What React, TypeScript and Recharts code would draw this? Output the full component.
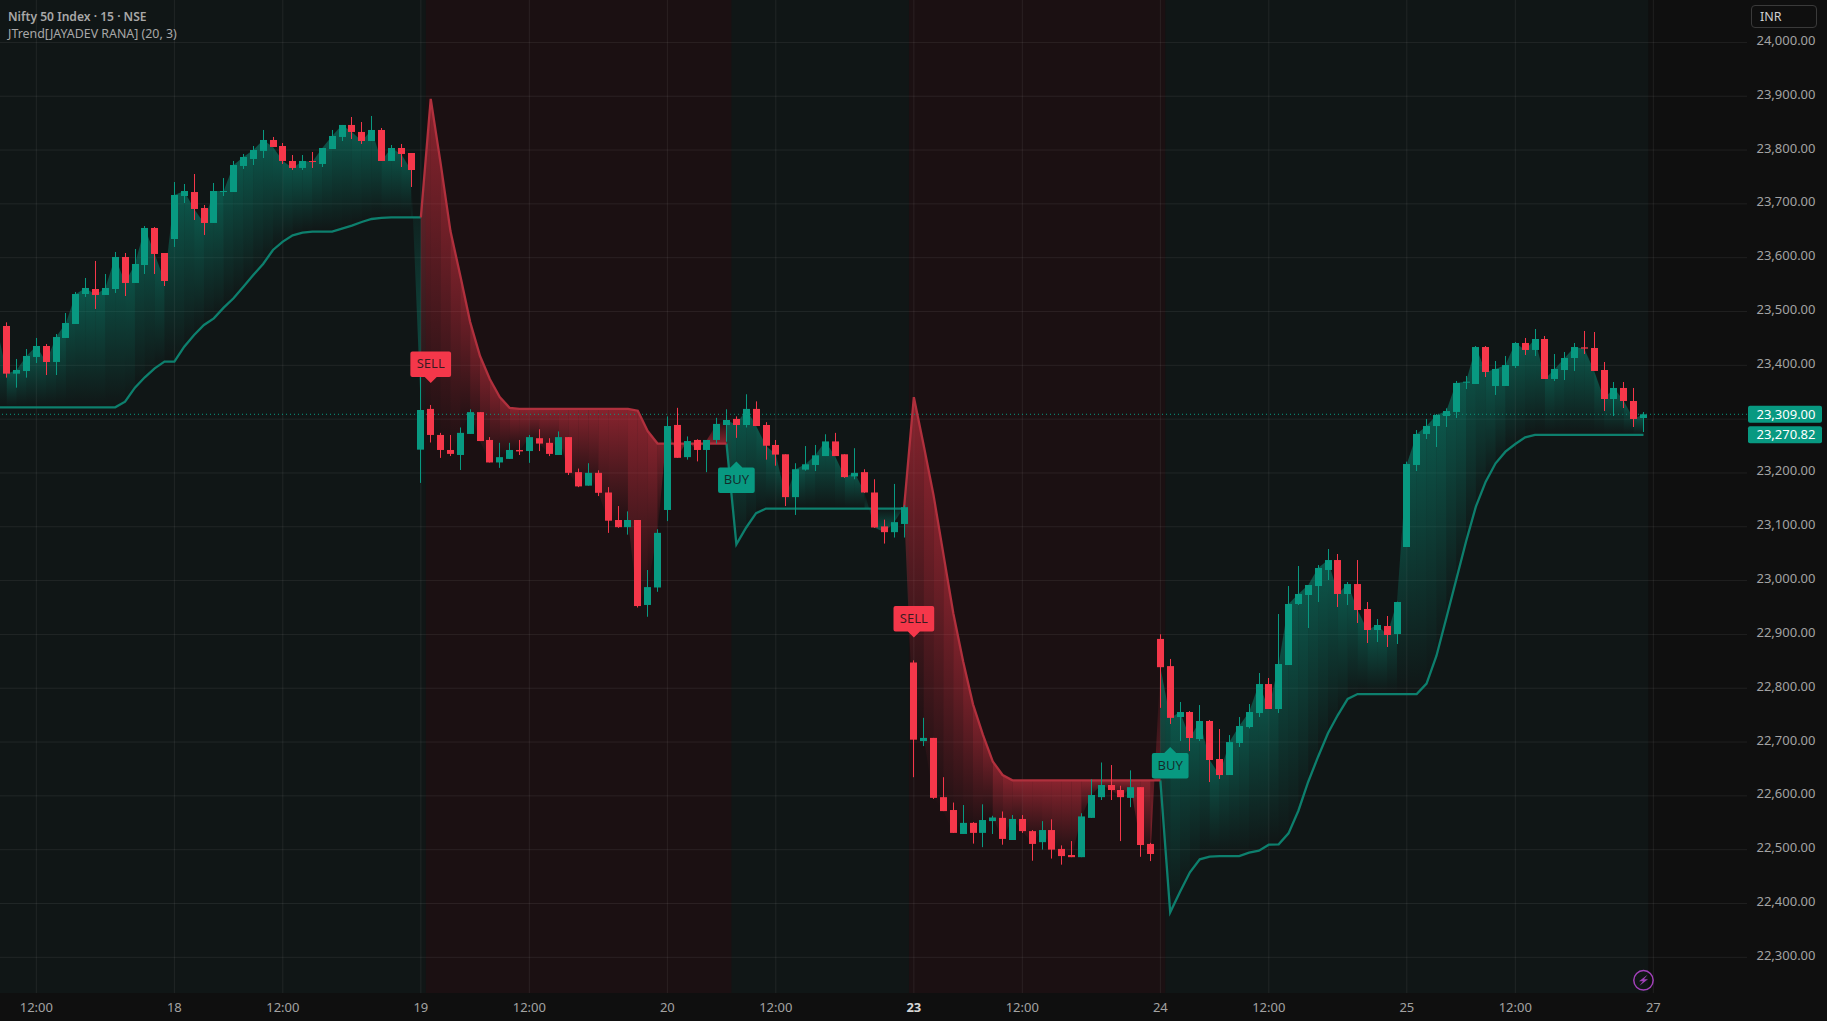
import React from "react";
import { ComposedChart, Area, Bar, Line, XAxis, YAxis, CartesianGrid, ReferenceArea, ReferenceLine, ReferenceDot } from "recharts";

const candleOpen = [23524.5,23473.1,23384.5,23389.4,23415.5,23435.9,23406.2,23450.8,23476.8,23532.5,23541.8,23530.7,23541.8,23601.3,23553,23586.4,23655.2,23608.7,23634.7,23714.6,23722,23692.3,23664.5,23722.7,23722,23770.4,23783.4,23798.3,23818.7,23807.5,23779.7,23766.7,23779.7,23774.1,23801.9,23824.3,23846.6,23833.6,23816.8,23837.3,23779.7,23803.8,23794.5,23243.3,
23319,23270.6,23242.7,23233.4,23272.5,23313,23261.3,23219.5,23226.1,23242.7,23240.7,23264.6,23256,23233.4,23266.6,23201.5,23176.4,23200.2,23163.7,23112.6,23099.3,23112.6,22954.7,22987.2,23131.2,23289.2,23229.4,23261.3,23242.7,23261.3,23289.1,23300.4,23289.1,23319,23289.1,23252,23234.7,23155.1,23206.2,23214.8,23231.4,23258.6,23234.7,23193.6,23201.5,23163.7,23100.7,23090,23105.2,
22847.8,22701.8,22707.7,22597.6,22573.7,22529.2,22549.8,22531.2,22553.1,22559.1,22518,22557.1,22534.5,22514,22536.5,22501.4,22490.1,22486.1,22559.1,22597.6,22620.2,22610.9,22596.3,22616.2,22510.7,
22891.6,22841.1,22746.5,22755.8,22705.6,22739.1,22668.5,22638.7,22698.2,22727.9,22753.9,22807.8,22761.4,22843.1,22956.5,22973.2,22989.9,23019.7,23038.2,22975.1,22993.6,22947.2,22908.2,22915.6,22900.7,
23062.4,23214.8,23272.4,23287.2,23305.8,23313.3,23367.8,23365.3,23434,23361.6,23361.6,23398.7,23441.5,23428.5,23448.9,23374.6,23391.3,23413.6,23433.4,23432.2,23391.3,23337.4,23357.9,23333.7,23302.1];
const candleHigh = [23527.6,23479.9,23411.8,23430.3,23450.8,23439.6,23458.2,23497.2,23536.3,23562.3,23593.9,23569.7,23610.6,23608.7,23616.1,23658.9,23657,23608.7,23740.6,23736.9,23755.5,23697.9,23738.8,23748,23779.7,23792.7,23807.5,23837.3,23824.3,23813.1,23790.8,23790.8,23796.4,23803.8,23837.3,23846.6,23861.4,23852.1,23863.3,23841,23809.4,23811.3,23794.5,23380,
23326.3,23274.5,23270.6,23284.5,23318.3,23313,23266.6,23256,23256,23261.3,23270.6,23281.2,23264.6,23277.2,23266.6,23208.2,23218.1,23204.9,23173.7,23138.5,23128.6,23112.6,23019.7,23095.4,23305.1,23321,23267.9,23262.6,23261.3,23302.4,23318.3,23305.1,23346.2,23333,23294.4,23261.3,23234.7,23218.1,23250,23252,23271.9,23274.5,23234.7,23246,23206.9,23188.3,23113.3,23179.6,23140,
22851.8,22745,22707.7,22634.7,22587.6,22583,22551.1,22584.3,22563,22571,22564.4,22564.4,22536.5,22553.1,22556.4,22508,22516,22567.7,22630.8,22662,22657.3,22618.8,22647.4,22616.2,22512.7,
22900.2,22854.4,22774.4,22757.6,22768.8,22741,22724.2,22713,22746.5,22770.7,22828.3,22819,22937.9,22989.9,23027.1,22991.8,23028.9,23058.7,23049.4,22997.4,23038.2,22960.2,22928.6,22934.2,22960.8,
23221,23279.8,23300.3,23309.5,23320.1,23370.9,23380.2,23435.9,23435.9,23408,23417.3,23443.3,23450.8,23467.5,23454.5,23421,23424.8,23441.5,23463.8,23461.9,23406.2,23369,23369,23357.9,23313.3];
const candleLow = [23470,23377.1,23358.5,23377.1,23404.3,23382,23382,23450.8,23476.8,23527,23504.7,23530.7,23534.4,23528.8,23553,23569.7,23569.7,23547.4,23619.9,23701.6,23670,23642.2,23664.5,23714.6,23722,23764.8,23772.2,23785.2,23805.7,23774.1,23763,23763,23766.7,23768.5,23801.9,23816.8,23820.5,23811.3,23816.8,23779.7,23779.7,23768.5,23731.4,23181.5,
23256.6,23228,23231.4,23205.5,23272.5,23259.3,23219.5,23209.5,23226.1,23233.4,23218.8,23240.7,23231.4,23233.4,23196.2,23173.7,23176.4,23157.1,23088.7,23098,23085.4,22950,22932.8,22979.2,23110.6,23228.1,23224.8,23221.5,23201.5,23254.6,23258,23265.2,23284.5,23287.2,23224.8,23213.5,23138.5,23122,23204.2,23203.5,23231.4,23231.4,23191,23188.3,23163.1,23098,23068.8,23080,23080,
22634.7,22692.5,22594.3,22571.7,22531.2,22529.2,22511.3,22504.7,22529.2,22509.3,22518,22531.2,22479.5,22500.1,22483.5,22472.2,22486.1,22486.1,22559.1,22592.3,22592.3,22516,22579,22486.8,22478.8,
22763.5,22733.6,22701.9,22683.3,22701.9,22625.7,22631.3,22638.7,22690.8,22725.4,22746.5,22761.4,22753.9,22843.1,22954.6,22911.9,22960.2,23001.1,22950.9,22954.6,22921.2,22884,22885.9,22876.6,22882.2,
23062.4,23203.6,23263.1,23248.2,23285.4,23302.1,23356,23365.3,23378.3,23344.9,23361.6,23395,23419.2,23417.3,23374.6,23370.9,23372.7,23389.5,23421,23389.5,23315.1,23305.8,23320.7,23285.4,23276.1];
const candleClose = [23470,23384.5,23391.3,23417.3,23435.9,23406.2,23452.6,23478.6,23532.5,23543.7,23530.7,23543.7,23601.3,23553,23588.3,23655.2,23606.9,23556.7,23716.5,23723.9,23690.5,23664.5,23723.9,23723.9,23772.2,23787.1,23800.1,23818.7,23805.7,23779.7,23766.7,23779.7,23778.4,23803.8,23826.1,23846.6,23833.6,23816.8,23837.3,23779.7,23803.8,23792.7,23762.9,23317,
23270.6,23242.7,23235.4,23274.5,23313,23259.3,23219.5,23229.4,23242.7,23240,23266.6,23254.6,23235.4,23266.6,23200.2,23175,23200.2,23163.1,23111.3,23099.3,23112.6,22952.7,22987.9,23088.7,23287.2,23228.1,23259.3,23242.7,23261.3,23291.1,23298.4,23289.1,23319,23287.2,23250.6,23234.1,23155.1,23206.9,23216.1,23232.8,23258.6,23231.4,23192.3,23200.2,23163.7,23098.7,23090,23108.6,23136.4,
22704.4,22707.7,22596.3,22571.7,22531.2,22549.8,22531.2,22555.1,22559.8,22520,22557.1,22534.5,22510.7,22536.5,22500.1,22488.1,22486.1,22561.8,22601.6,22620.2,22610.9,22597.6,22616.2,22508.7,22492,
22839.1,22744.9,22755.8,22707.5,22739.1,22666.6,22638.7,22700,22729.8,22755.8,22807.8,22761.4,22845,22956.5,22975.1,22991.8,23023.4,23038.2,22975.1,22993.6,22945.3,22908.2,22917.5,22898.9,22960.2,
23216.6,23272.4,23287.2,23307.7,23315.1,23367.2,23369.6,23434,23387.6,23393.2,23400.6,23441.5,23428.5,23448.9,23374.6,23393.2,23413.6,23434,23431,23389.5,23337.4,23357.9,23333.7,23300.3,23309];
const trendLine = [23321.9,23321.9,23321.9,23321.9,23321.9,23321.9,23321.9,23321.9,23321.9,23321.9,23321.9,23321.9,23321.9,23332.5,23358.5,23377.7,23394.4,23406.8,23406.8,23434.7,23456.3,23474.9,23487.3,23507.1,23524.5,23546.2,23567.8,23588.3,23614.3,23629.8,23641.6,23646.5,23648.4,23648.4,23648.4,23653.9,23659.5,23666.3,23671.9,23673.8,23675,23675,23675,23675,
23895,23775.6,23649.5,23566.5,23480.3,23417.2,23374.1,23340.9,23321,23319,23319,23319,23319,23319,23319,23319,23319,23319,23319,23319,23319,23315.7,23277.8,23254.6,23254.6,23254.6,23254.6,23254.6,23254.6,23254.6,23254.6,
23067.5,23098.7,23125.2,23133.9,23133.9,23133.9,23133.9,23133.9,23133.9,23133.9,23133.9,23133.9,23133.9,23133.9,23133.9,23133.9,23133.9,23133.9,
23340.8,23251.2,23158.3,23048.8,22939.4,22849.8,22770.1,22713.7,22663.9,22638.7,22628.8,22628.8,22628.8,22628.8,22628.8,22628.8,22628.8,22628.8,22628.8,22628.8,22628.8,22628.8,22628.8,22628.8,22628.8,22628.8,
22383.7,22422,22457.9,22482,22487,22488.2,22488.2,22488.2,22494.4,22498.1,22509.3,22509.9,22530.3,22572.4,22626.3,22672.8,22716.2,22750.2,22780,22789.2,22789.2,22789.2,22789.2,22789.2,22789.2,22789.2,22808.5,22860,22929.9,23001.1,23072.3,23137.4,23183.8,23217.9,23239.6,23253.8,23266.2,23270.82,23270.82,23270.82,23270.82,23270.82,23270.82,23270.82,23270.82,23270.82,23270.82,23270.82,23270.82];

const redRuns = [[44, 74], [93, 118]];
const sellBars = [[44, 23367.3], [93, 22894.3]];
const buyBars = [[75, 23221.5], [119, 22690.6]];
const priceTicks = [24000,23900,23800,23700,23600,23500,23400,23309,23270.82,23200,23100,23000,22900,22800,22700,22600,22500,22400,22300];
const gridPrices = [24000,23900,23800,23700,23600,23500,23400,23300,23200,23100,23000,22900,22800,22700,22600,22500,22400,22300];
const timeTicks = [4,18,29,43,54,68,79,93,104,118,129,143,154,168];
const timeLabels = ["12:00","18","12:00","19","12:00","20","12:00","23","12:00","24","12:00","25","12:00","27"];
const lastPrice = 23309;
const trendLast = 23270.82;

const GREEN = "#089981";
const RED = "#F5374A";
const FONT = "'Noto Sans', sans-serif";

const isRed = (i: number) => redRuns.some(([a, b]) => i >= a && i <= b);
const data = candleOpen.map((open, i) => ({
  i,
  open,
  high: candleHigh[i],
  low: candleLow[i],
  close: candleClose[i],
  trend: trendLine[i],
  greenLine: !isRed(i) || isRed(i + 1) === false ? trendLine[i] : null,
  redLine: isRed(i) || isRed(i + 1) ? trendLine[i] : null,
}));
const segments = data.slice(0, -1).map((d) => d.i);

function Candle(props: any) {
  const { x, y, width, height, payload } = props;
  const k = height / (payload.high - payload.low || 1);
  const up = payload.close >= payload.open;
  const color = up ? GREEN : RED;
  const topP = Math.max(payload.open, payload.close);
  const botP = Math.min(payload.open, payload.close);
  const bodyY = y + (payload.high - topP) * k;
  const bodyH = Math.max(1, (topP - botP) * k);
  const left = Math.round(x + width / 2 - 3);
  return (
    <g>
      <rect x={left + 3} y={y} width={1} height={Math.max(1, height)} fill={color} />
      <rect x={left} y={bodyY} width={7} height={bodyH} fill={color} />
    </g>
  );
}

function PriceTick(props: any) {
  const { x, y, payload } = props;
  const v = payload.value;
  const isLabel = v === lastPrice || v === trendLast;
  const txt = v.toLocaleString("en-US", { minimumFractionDigits: 2, maximumFractionDigits: 2 });
  if (isLabel) {
    return (
      <g>
        <rect x={x + 1} y={y - 8.5} width={74} height={17} rx={2} fill={GREEN} />
        <text x={x + 68.5} y={y} dy={-0.5} textAnchor="end" dominantBaseline="central" fontFamily={FONT} fontSize={13} fill="#ffffff">{txt}</text>
      </g>
    );
  }
  return <text x={x + 68.5} y={y - 2.5} textAnchor="end" dominantBaseline="central" fontFamily={FONT} fontSize={13} fill="#a3a3a3">{txt}</text>;
}

function TimeTick(props: any) {
  const { x, y, payload } = props;
  const label = timeLabels[timeTicks.indexOf(payload.value)];
  return (
    <text x={x} y={y + 13.5} textAnchor="middle" dominantBaseline="central" fontFamily={FONT} fontSize={13}
      fontWeight={label === "23" ? 700 : 400} fill={label === "23" ? "#d6d6d6" : "#a3a3a3"}>{label}</text>
  );
}

const Badge = (label: string, color: string, down: boolean, w: number) => (props: any) => {
  const { cx, cy } = props;
  const top = down ? cy - 31.5 : cy + 6;
  const h = 25.5;
  const l = cx - w / 2;
  const path = down
    ? `M${l + 2} ${top} H${l + w - 2} Q${l + w} ${top} ${l + w} ${top + 2} V${top + h - 2} Q${l + w} ${top + h} ${l + w - 2} ${top + h} H${cx + 6} L${cx} ${cy} L${cx - 6} ${top + h} H${l + 2} Q${l} ${top + h} ${l} ${top + h - 2} V${top + 2} Q${l} ${top} ${l + 2} ${top} Z`
    : `M${l + 2} ${top} H${cx - 6} L${cx} ${cy} L${cx + 6} ${top} H${l + w - 2} Q${l + w} ${top} ${l + w} ${top + 2} V${top + h - 2} Q${l + w} ${top + h} ${l + w - 2} ${top + h} H${l + 2} Q${l} ${top + h} ${l} ${top + h - 2} V${top + 2} Q${l} ${top} ${l + 2} ${top} Z`;
  return (
    <g>
      <path d={path} fill={color} />
      <text x={cx} y={top + h / 2 - 1} textAnchor="middle" dominantBaseline="central" fontFamily={FONT} fontSize={13} fill="#16161a" fillOpacity={0.85}>{label}</text>
    </g>
  );
};

const Bolt = (props: any) => {
  const { cx, cy } = props;
  return (
    <g>
      <circle cx={cx} cy={cy} r={9.7} fill="none" stroke="#a040b8" strokeWidth={1.5} />
      <path d={`M${cx + 4} ${cy - 5.5} L${cx - 4.5} ${cy + 1} H${cx - 0.5} L${cx - 4} ${cy + 5.5} L${cx + 4.5} ${cy - 1} H${cx + 0.5} Z`} fill="#a040b8" />
    </g>
  );
};

export default function App() {
  return (
    <div style={{ position: "absolute", left: 0, top: 0, width: 1827, height: 1021, background: "#0f0f0f", overflow: "hidden" }}>
      <ComposedChart width={1827} height={1021} data={data} margin={{ top: 0, right: 0, bottom: 0, left: 0 }}>
        <defs>
          {segments.map((s) => {
            const red = isRed(s + 1);
            const c = red ? RED : GREEN;
            const above = data[s].close + data[s + 1].close > data[s].trend + data[s + 1].trend;
            const brightTop = red ? !above : above;
            const alpha = 0.5;
            return (
              <linearGradient key={s} id={`seg${s}`} x1="0" y1="0" x2="0" y2="1">
                <stop offset="0" stopColor={c} stopOpacity={brightTop ? alpha : 0} />
                <stop offset="1" stopColor={c} stopOpacity={brightTop ? 0 : alpha} />
              </linearGradient>
            );
          })}
        </defs>
        <XAxis dataKey="i" type="number" domain={[0.3144, 177.5]} allowDataOverflow ticks={timeTicks} interval={0}
          height={28} axisLine={false} tickLine={false} tickSize={0} tickMargin={0} tick={<TimeTick />} />
        <YAxis orientation="right" type="number" domain={[22233.7, 24078.8]} allowDataOverflow ticks={priceTicks} interval={0}
          width={80} axisLine={false} tickLine={false} tickSize={0} tickMargin={0} tick={<PriceTick />} />
        <ReferenceArea x1={0.3144} x2={167.5} fill="#101616" fillOpacity={1} stroke="none" ifOverflow="hidden" zIndex={-300} />
        {redRuns.map(([a, b]) => (
          <ReferenceArea key={a} x1={a - 0.5} x2={b + 0.5} fill="#1b1012" fillOpacity={1} stroke="none" ifOverflow="hidden" zIndex={-200} />
        ))}
        <CartesianGrid stroke="#ffffff" strokeOpacity={0.07} horizontalValues={gridPrices} verticalValues={timeTicks} />
        {segments.map((s) => (
          <Area key={s} type="linear" isAnimationActive={false} stroke="none" fill={`url(#seg${s})`} fillOpacity={1}
            dot={false} activeDot={false} legendType="none"
            dataKey={(d: any) => (d.i === s || d.i === s + 1 ? [d.trend, d.close] : null)} />
        ))}
        <ReferenceLine y={lastPrice} stroke={GREEN} strokeDasharray="1 3" strokeWidth={1} zIndex={150} />
        <Line dataKey="greenLine" type="linear" stroke="#0d7f6d" strokeWidth={2.3} dot={false} activeDot={false} isAnimationActive={false} zIndex={150} />
        <Line dataKey="redLine" type="linear" stroke="#b0303d" strokeWidth={2.3} dot={false} activeDot={false} isAnimationActive={false} zIndex={150} />
        <Bar dataKey={(d: any) => [d.low, d.high]} barSize={7} shape={<Candle />} isAnimationActive={false} />
        {sellBars.map(([i, p]) => (
          <ReferenceDot key={i} x={i} y={p} shape={Badge("SELL", RED, true, 40.7)} />
        ))}
        {buyBars.map(([i, p]) => (
          <ReferenceDot key={i} x={i} y={p} shape={Badge("BUY", GREEN, false, 36.7)} />
        ))}
        <ReferenceDot x={167} y={22257.3} shape={Bolt} />
      </ComposedChart>
      <div style={{ position: "absolute", left: 8, top: 8, font: "600 12.1px/18px 'Noto Sans', sans-serif", color: "#a8a8a8", whiteSpace: "nowrap" }}>Nifty 50 Index · 15 · NSE</div>
      <div style={{ position: "absolute", left: 8, top: 25, font: "400 12.4px/18px 'Noto Sans', sans-serif", color: "#a8a8a8", whiteSpace: "nowrap" }}>JTrend[JAYADEV RANA] (20, 3)</div>
      <div style={{ position: "absolute", left: 1751, top: 5, width: 66, height: 23, boxSizing: "border-box", border: "1px solid #3a3a3a", borderRadius: 4, font: "400 12.5px/21px 'Noto Sans', sans-serif", color: "#d0d0d0", paddingLeft: 8 }}>INR</div>
    </div>
  );
}
